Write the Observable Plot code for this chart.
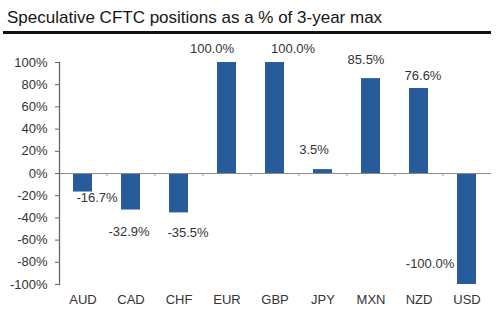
<!DOCTYPE html>
<html>
<head>
<meta charset="utf-8">
<script src="https://cdn.jsdelivr.net/npm/d3@7"></script>
<script src="https://cdn.jsdelivr.net/npm/@observablehq/plot@0.6"></script>
<style>
  html, body { margin: 0; padding: 0; background: #fff; }
  #wrap { width: 500px; height: 336px; position: relative; font-family: "Liberation Sans", Arial, sans-serif; }
  #head { position: relative; height: 36px; }
  #title { position: absolute; left: 7px; top: 8px; font-size: 17px; color: #151515; white-space: nowrap; }
  #rule { position: absolute; left: 3px; top: 31px; width: 488px; height: 3px; background: #111; }
  svg { display: block; }
</style>
</head>
<body>
<div id="wrap">
  <div id="head"><div id="title">Speculative CFTC positions as a % of 3-year max</div><div id="rule"></div></div>
  <div id="chart"></div>
</div>
<script>
const currencies = ["AUD", "CAD", "CHF", "EUR", "GBP", "JPY", "MXN", "NZD", "USD"];
const positions = [-16.7, -32.9, -35.5, 100.0, 100.0, 3.5, 85.5, 76.6, -100.0];
const yTicks = [-100, -80, -60, -40, -20, 0, 20, 40, 60, 80, 100];

// label placement tweaks (pixels), as in the original layout
const labelShift = {
  AUD: [14, 6], CAD: [-2, 22], CHF: [9, 20], EUR: [-15, -14], GBP: [18, -14],
  JPY: [-9, -20], MXN: [-5, -19], NZD: [4, -13], USD: [-37, -21]
};

const data = currencies.map((c, i) => ({currency: c, value: positions[i]}));
const barColor = "#285b9b";
const textColor = "#333";

const labelMarks = data.map(d => Plot.text([d], {
  x: "currency", y: "value",
  text: r => r.value.toFixed(1) + "%",
  dx: labelShift[d.currency][0], dy: labelShift[d.currency][1],
  fill: textColor, fontSize: 13, lineAnchor: "middle"
}));

const plot = Plot.plot({
  width: 500,
  height: 300,
  marginTop: 26,
  marginBottom: 52,
  marginLeft: 59,
  marginRight: 9,
  style: {fontFamily: "'Liberation Sans', Arial, sans-serif", fontSize: "13px", color: textColor, background: "#fff"},
  x: {domain: currencies, paddingInner: 0.6, paddingOuter: 0.3, label: null},
  y: {domain: [-100, 100], label: null},
  marks: [
    Plot.barY(data, {x: "currency", y: "value", fill: barColor}),
    Plot.ruleY([0], {stroke: "#8a8a8a", strokeWidth: 1.2}),
    Plot.ruleX(currencies.slice(0, -1), {x: d => d, y1: 0, y2: -2.8, dx: 24, stroke: "#9a9a9a", strokeWidth: 1}),
    Plot.axisY({ticks: yTicks, tickFormat: d => d + "%", tickSize: 4, tickPadding: 8, stroke: "#666", fill: textColor, fontSize: 13}),
    Plot.frame({anchor: "left", stroke: "#666", strokeWidth: 1.3}),
    Plot.axisX({anchor: "bottom", tickSize: 0, tickPadding: 10, fill: textColor, fontSize: 13, letterSpacing: -0.6}),
    ...labelMarks
  ]
});
document.getElementById("chart").appendChild(plot);
</script>
</body>
</html>
